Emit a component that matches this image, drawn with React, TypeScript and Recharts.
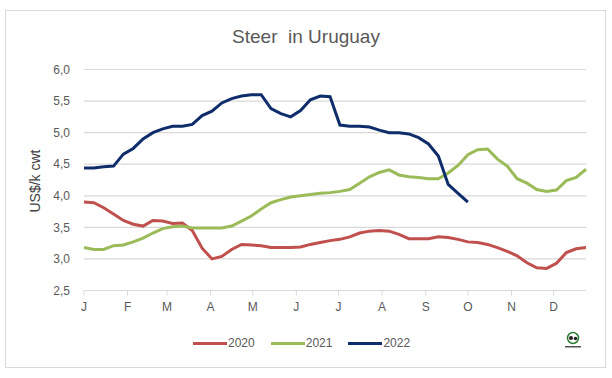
import React from 'react';
import { LineChart, Line, XAxis, YAxis, CartesianGrid } from 'recharts';

// weekly prices, US$/k cwt (week 1 = 1 Jan)
const prices2020 = [
  3.9, 3.89, 3.81, 3.71, 3.61, 3.55, 3.52, 3.61, 3.6, 3.56, 3.57, 3.45, 3.17,
  3.0, 3.04, 3.15, 3.23, 3.22, 3.21, 3.18, 3.18, 3.18, 3.19, 3.23, 3.26, 3.29,
  3.31, 3.35, 3.41, 3.44, 3.45, 3.44, 3.39, 3.32, 3.32, 3.32, 3.35, 3.34, 3.31,
  3.27, 3.26, 3.23, 3.18, 3.12, 3.05, 2.94, 2.86, 2.85, 2.93, 3.1, 3.16, 3.18,
];
const prices2021 = [
  3.18, 3.15, 3.15, 3.21, 3.22, 3.27, 3.33, 3.41, 3.48, 3.51, 3.52, 3.49, 3.49,
  3.49, 3.49, 3.52, 3.6, 3.68, 3.79, 3.89, 3.94, 3.98, 4.0, 4.02, 4.04, 4.05,
  4.07, 4.1, 4.2, 4.3, 4.37, 4.41, 4.33, 4.3, 4.29, 4.27, 4.27, 4.36, 4.48,
  4.65, 4.73, 4.74, 4.58, 4.47, 4.27, 4.2, 4.1, 4.07, 4.09, 4.24, 4.29, 4.42,
];
const prices2022 = [
  4.44, 4.44, 4.46, 4.47, 4.66, 4.75, 4.9, 5.0, 5.06, 5.1, 5.1, 5.13, 5.27,
  5.34, 5.47, 5.54, 5.58, 5.6, 5.6, 5.38, 5.3, 5.25, 5.35, 5.52, 5.58, 5.57,
  5.12, 5.1, 5.1, 5.09, 5.04, 5.0, 5.0, 4.98, 4.92, 4.82, 4.63, 4.18, 4.04, 3.9,
];

const monthStarts = [0, 31, 59, 90, 120, 151, 181, 212, 243, 273, 304, 334];
const monthLabels = ['J', 'F', 'M', 'A', 'M', 'J', 'J', 'A', 'S', 'O', 'N', 'D'];
const yTicks = [2.5, 3, 3.5, 4, 4.5, 5, 5.5, 6];

const series = [
  { key: 'y2020', name: '2020', color: '#C0504D' },
  { key: 'y2021', name: '2021', color: '#9BBB59' },
  { key: 'y2022', name: '2022', color: '#0F2D6B' },
];

const data = prices2020.map((v, i) => ({
  day: i * 7,
  y2020: v,
  y2021: prices2021[i],
  y2022: i < prices2022.length ? prices2022[i] : undefined,
}));

const FONT = '"Liberation Sans", Arial, sans-serif';

const App: React.FC = () => {
  return (
    <div style={{ position: 'absolute', left: 0, top: 0, width: 612, height: 378, background: '#fff', fontFamily: FONT }}>
      {/* chart frame */}
      <div
        style={{
          position: 'absolute',
          left: 5,
          top: 10,
          width: 599,
          height: 356,
          border: '1.5px solid #D9D9D9',
        }}
      />
      <div
        style={{
          position: 'absolute',
          left: 0,
          width: 612,
          top: 26,
          textAlign: 'center',
          fontSize: 19,
          color: '#595959',
          whiteSpace: 'pre',
        }}
      >
        {'Steer  in Uruguay'}
      </div>
      <div
        style={{
          position: 'absolute',
          left: 35,
          top: 181,
          transform: 'translate(-50%, -50%) rotate(-90deg)',
          fontSize: 14,
          color: '#404040',
          whiteSpace: 'nowrap',
        }}
      >
        US$/k cwt
      </div>

      <div style={{ position: 'absolute', left: 0, top: 0 }}>
        <LineChart width={612} height={378} data={data} margin={{ top: 69.5, right: 26, bottom: 57.5, left: 34 }}>
          <CartesianGrid horizontal vertical={false} stroke="#D9D9D9" strokeWidth={1.2} />
          <XAxis
            dataKey="day"
            type="number"
            domain={[0, 357]}
            ticks={monthStarts}
            tickFormatter={(v: number) => monthLabels[monthStarts.indexOf(v)]}
            interval={0}
            height={30}
            stroke="#D9D9D9"
            tickSize={5}
            tickMargin={7}
            tick={{ fill: '#595959', fontSize: 12, fontFamily: FONT }}
          />
          <YAxis
            type="number"
            domain={[2.5, 6]}
            ticks={yTicks}
            width={50}
            axisLine={false}
            tickLine={false}
            tickMargin={8}
            tickFormatter={(v: number) => v.toFixed(1).replace('.', ',')}
            tick={{ fill: '#595959', fontSize: 12, fontFamily: FONT }}
          />
          {series.map((s) => (
            <Line
              key={s.key}
              dataKey={s.key}
              type="linear"
              stroke={s.color}
              strokeWidth={3}
              dot={false}
              isAnimationActive={false}
            />
          ))}
        </LineChart>
      </div>

      {/* legend */}
      <div style={{ position: 'absolute', left: 193, top: 336, display: 'flex', alignItems: 'center' }}>
        {series.map((s) => (
          <div key={s.key} style={{ display: 'flex', alignItems: 'center', marginRight: 16 }}>
            <div style={{ width: 34, height: 3, background: s.color }} />
            <span style={{ fontSize: 12, color: '#595959', marginLeft: 1 }}>{s.name}</span>
          </div>
        ))}
      </div>

      {/* small logo mark */}
      <svg style={{ position: 'absolute', left: 562, top: 330 }} width={22} height={22}>
        <circle cx={11} cy={8} r={5.5} fill="none" stroke="#2E7D32" strokeWidth={1.5} />
        <circle cx={9} cy={8} r={2} fill="#222" />
        <circle cx={13.5} cy={8.5} r={1.8} fill="#222" />
        <rect x={3} y={16} width={16} height={1.5} fill="#555" />
      </svg>
    </div>
  );
};

export default App;
